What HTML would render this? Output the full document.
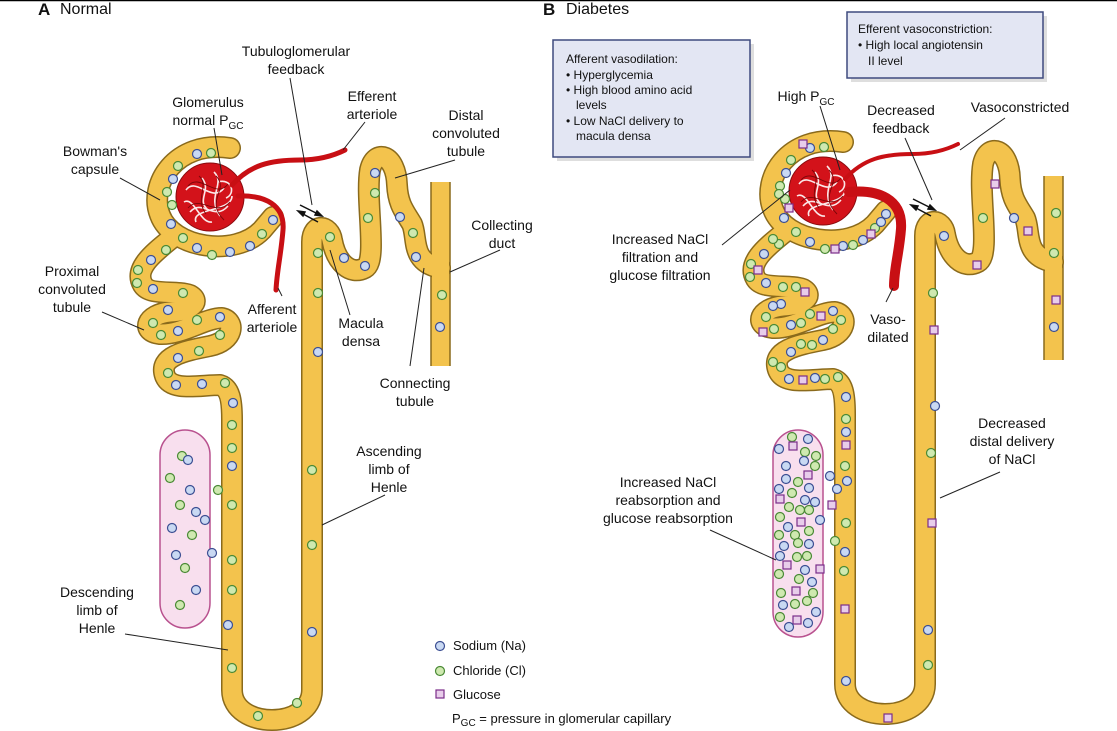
<!DOCTYPE html>
<html><head><meta charset="utf-8"><style>
html,body{margin:0;padding:0;background:#fff}
svg{display:block}
text{font-family:"Liberation Sans",Arial,sans-serif;font-size:14px;fill:#111}
.c{text-anchor:middle}
.s{font-size:12px}
</style></head><body>
<svg width="1117" height="731" viewBox="0 0 1117 731" xmlns="http://www.w3.org/2000/svg">
<defs>
<path id="tub" d="M230,148 C175,140 148,185 160,215 C172,248 235,258 262,230 L273,217
M172,238 C155,252 133,268 143,285 C150,296 175,290 190,295 C202,302 190,311 170,312 C146,314 140,332 160,334 C182,335 205,318 222,318 C236,321 234,341 210,346 C185,351 158,356 165,376 C171,392 200,385 220,385 C230,388 232,400 232,420 L232,690 C232,730 312,730 312,690 L312,242 C312,222 330,225 332,240 C336,262 350,276 365,268 C378,261 365,200 370,170 C375,148 396,154 397,185 C398,205 405,212 412,224 C418,238 410,262 440,268"/>
<g id="glom">
<circle cx="210" cy="197" r="34" fill="#d3121a" stroke="#8a0a0e" stroke-width="1"/>
<g fill="none" stroke="#fff" stroke-width="1.6" opacity="0.9">
<path d="M186,190 C196,176 212,204 224,188 M190,212 C202,198 214,222 228,206 M202,178 C212,190 196,200 208,210 M214,172 C226,184 206,196 220,216 M184,202 C194,196 200,224 212,222 M196,222 C190,208 232,212 232,196 M218,182 C232,178 236,194 226,198"/>
</g>
<g fill="none" stroke="#7a0508" stroke-width="0.9">
<path d="M188,186 C200,172 216,200 228,184 M188,208 C200,194 216,218 230,202 M199,176 C210,186 194,198 206,214 M216,176 C230,190 204,200 224,220"/>
</g>
</g>
<g id="cb"><circle r="4.5" fill="#c9d9f3" stroke="#3c4f93" stroke-width="1.2"/></g>
<g id="cg"><circle r="4.5" fill="#cfe9b0" stroke="#4a8a35" stroke-width="1.2"/></g>
<g id="sq"><rect x="-4" y="-4" width="8" height="8" fill="#e8cdea" stroke="#7b2d8a" stroke-width="1.2"/></g>
<g id="prox">
<use href="#cb" x="197" y="154"/><use href="#cg" x="211" y="153"/><use href="#cg" x="178" y="166"/><use href="#cb" x="173" y="179"/><use href="#cg" x="167" y="192"/><use href="#cg" x="172" y="205"/><use href="#cb" x="171" y="224"/><use href="#cg" x="183" y="238"/><use href="#cb" x="197" y="248"/><use href="#cg" x="212" y="255"/><use href="#cb" x="230" y="252"/><use href="#cb" x="250" y="246"/><use href="#cg" x="262" y="234"/><use href="#cb" x="273" y="220"/>
<use href="#cg" x="166" y="250"/><use href="#cb" x="151" y="260"/><use href="#cg" x="138" y="270"/><use href="#cg" x="137" y="283"/><use href="#cb" x="153" y="289"/><use href="#cg" x="183" y="293"/><use href="#cb" x="168" y="310"/><use href="#cg" x="153" y="323"/><use href="#cg" x="161" y="335"/><use href="#cb" x="178" y="331"/><use href="#cg" x="197" y="320"/><use href="#cb" x="220" y="317"/><use href="#cg" x="220" y="335"/><use href="#cg" x="199" y="351"/><use href="#cb" x="178" y="358"/><use href="#cg" x="168" y="373"/><use href="#cb" x="176" y="385"/><use href="#cb" x="202" y="384"/><use href="#cg" x="225" y="383"/><use href="#cb" x="233" y="403"/>
</g>
</defs>

<line x1="0" y1="0.5" x2="1117" y2="0.5" stroke="#000" stroke-width="1.5"/>
<text x="38" y="15" style="font-size:17px;font-weight:bold">A</text>
<text x="60" y="14" style="font-size:16px">Normal</text>
<text x="543" y="15" style="font-size:17px;font-weight:bold">B</text>
<text x="566" y="14" style="font-size:16px">Diabetes</text>

<rect x="160" y="430" width="50" height="198" rx="25" fill="#f8dfee" stroke="#b9528f" stroke-width="1.5"/>
<rect x="773" y="430" width="50" height="207" rx="25" fill="#f8dfee" stroke="#b9528f" stroke-width="1.5"/>

<!-- A nephron -->
<g>
<rect x="431" y="182" width="19" height="184" fill="#f3c34d"/>
<line x1="431" y1="182" x2="431" y2="366" stroke="#8a6a1c" stroke-width="1.5"/>
<line x1="450" y1="182" x2="450" y2="366" stroke="#8a6a1c" stroke-width="1.5"/>
<use href="#tub" fill="none" stroke="#8a6a1c" stroke-width="22" stroke-linecap="round" stroke-linejoin="round"/>
<use href="#tub" fill="none" stroke="#f3c34d" stroke-width="19" stroke-linecap="round" stroke-linejoin="round"/>
<rect x="432" y="200" width="17" height="160" fill="#f3c34d"/>
<use href="#glom"/>
<path d="M232,185 C250,165 270,160 300,160 C320,160 335,155 345,150" fill="none" stroke="#c80f14" stroke-width="5" stroke-linecap="round"/>
<path d="M238,196 C265,195 285,205 283,230 C281,255 277,270 276,290" fill="none" stroke="#c80f14" stroke-width="5" stroke-linecap="round"/>
<use href="#prox"/>
</g>

<!-- B nephron -->
<g transform="translate(613,-6)">
<rect x="431" y="182" width="19" height="184" fill="#f3c34d"/>
<line x1="431" y1="182" x2="431" y2="366" stroke="#8a6a1c" stroke-width="1.5"/>
<line x1="450" y1="182" x2="450" y2="366" stroke="#8a6a1c" stroke-width="1.5"/>
<use href="#tub" fill="none" stroke="#8a6a1c" stroke-width="22" stroke-linecap="round" stroke-linejoin="round"/>
<use href="#tub" fill="none" stroke="#f3c34d" stroke-width="19" stroke-linecap="round" stroke-linejoin="round"/>
<rect x="432" y="200" width="17" height="160" fill="#f3c34d"/>
<use href="#glom"/>
<path d="M232,185 C250,165 270,160 300,160 C320,160 335,155 345,150" fill="none" stroke="#c80f14" stroke-width="4" stroke-linecap="round"/>
<path d="M236,198 C265,195 290,205 288,235 C286,260 281,275 281,292" fill="none" stroke="#c80f14" stroke-width="10" stroke-linecap="round"/>
<use href="#prox"/>
<use href="#sq" x="190" y="150"/><use href="#sq" x="176" y="214"/><use href="#sq" x="222" y="255"/><use href="#cg" x="240" y="251"/><use href="#sq" x="258" y="240"/><use href="#cg" x="166" y="200"/><use href="#cb" x="268" y="228"/>
<use href="#cg" x="160" y="245"/><use href="#sq" x="145" y="276"/><use href="#cg" x="170" y="293"/><use href="#sq" x="192" y="298"/><use href="#cb" x="160" y="312"/><use href="#cg" x="188" y="329"/><use href="#sq" x="208" y="322"/><use href="#cg" x="228" y="326"/><use href="#cg" x="188" y="350"/><use href="#cg" x="160" y="368"/><use href="#sq" x="190" y="386"/><use href="#cg" x="212" y="385"/><use href="#sq" x="150" y="338"/><use href="#cb" x="210" y="346"/>
</g>

<!-- A dots -->
<g>
<use href="#cg" x="232" y="425"/><use href="#cg" x="232" y="448"/><use href="#cb" x="232" y="466"/><use href="#cg" x="218" y="490"/><use href="#cg" x="232" y="505"/><use href="#cb" x="212" y="553"/><use href="#cg" x="232" y="560"/><use href="#cg" x="232" y="590"/><use href="#cb" x="228" y="625"/><use href="#cg" x="232" y="668"/><use href="#cg" x="258" y="716"/><use href="#cg" x="297" y="703"/>
<use href="#cb" x="312" y="632"/><use href="#cg" x="312" y="545"/><use href="#cg" x="312" y="470"/><use href="#cb" x="318" y="352"/><use href="#cg" x="318" y="293"/><use href="#cg" x="318" y="253"/><use href="#cg" x="330" y="237"/><use href="#cb" x="344" y="258"/><use href="#cb" x="365" y="266"/><use href="#cg" x="368" y="218"/><use href="#cb" x="375" y="173"/><use href="#cg" x="375" y="193"/><use href="#cb" x="400" y="217"/><use href="#cg" x="413" y="233"/><use href="#cb" x="416" y="257"/><use href="#cg" x="442" y="295"/><use href="#cb" x="440" y="327"/>
<use href="#cg" x="182" y="456"/><use href="#cb" x="188" y="460"/><use href="#cg" x="170" y="478"/><use href="#cb" x="190" y="490"/><use href="#cg" x="180" y="505"/><use href="#cb" x="196" y="512"/><use href="#cb" x="205" y="520"/><use href="#cb" x="172" y="528"/><use href="#cg" x="192" y="535"/><use href="#cb" x="176" y="555"/><use href="#cg" x="185" y="568"/><use href="#cb" x="196" y="590"/><use href="#cg" x="180" y="605"/>
</g>

<!-- B dots -->
<g>
<use href="#cg" x="846" y="419"/><use href="#cb" x="846" y="432"/><use href="#sq" x="846" y="445"/><use href="#cg" x="845" y="466"/><use href="#cb" x="830" y="476"/><use href="#cb" x="847" y="481"/><use href="#cb" x="837" y="489"/><use href="#sq" x="832" y="505"/><use href="#cg" x="846" y="523"/><use href="#cg" x="835" y="541"/><use href="#cb" x="845" y="552"/><use href="#cg" x="844" y="571"/><use href="#sq" x="845" y="609"/><use href="#cb" x="846" y="681"/><use href="#sq" x="888" y="718"/><use href="#cg" x="928" y="665"/><use href="#cb" x="928" y="630"/><use href="#sq" x="932" y="523"/><use href="#cg" x="931" y="453"/><use href="#cb" x="935" y="406"/><use href="#sq" x="934" y="330"/><use href="#cg" x="933" y="293"/><use href="#cb" x="944" y="236"/><use href="#sq" x="977" y="265"/><use href="#cg" x="983" y="218"/><use href="#cb" x="1014" y="218"/><use href="#sq" x="1028" y="231"/><use href="#sq" x="995" y="184"/><use href="#cg" x="1056" y="213"/><use href="#cg" x="1054" y="253"/><use href="#sq" x="1056" y="300"/><use href="#cb" x="1054" y="327"/>
<use href="#cg" x="792" y="437"/><use href="#sq" x="793" y="446"/><use href="#cb" x="808" y="439"/><use href="#cb" x="779" y="449"/><use href="#cg" x="805" y="452"/><use href="#cg" x="816" y="456"/><use href="#cb" x="804" y="461"/><use href="#cb" x="786" y="466"/><use href="#sq" x="808" y="475"/><use href="#cg" x="815" y="466"/><use href="#cb" x="786" y="479"/><use href="#cg" x="798" y="482"/><use href="#cb" x="779" y="489"/><use href="#cb" x="809" y="488"/><use href="#cg" x="792" y="493"/><use href="#sq" x="780" y="499"/><use href="#cb" x="805" y="500"/><use href="#cb" x="815" y="502"/><use href="#cg" x="789" y="507"/><use href="#cg" x="800" y="510"/><use href="#cg" x="809" y="510"/><use href="#cg" x="780" y="517"/><use href="#sq" x="801" y="522"/><use href="#cb" x="820" y="520"/><use href="#cb" x="788" y="527"/><use href="#cg" x="779" y="535"/><use href="#cg" x="795" y="535"/><use href="#cg" x="809" y="531"/><use href="#cb" x="784" y="546"/><use href="#cg" x="798" y="543"/><use href="#cb" x="809" y="544"/><use href="#cb" x="780" y="556"/><use href="#cg" x="797" y="557"/><use href="#cg" x="807" y="556"/><use href="#sq" x="787" y="565"/><use href="#cb" x="805" y="570"/><use href="#sq" x="820" y="569"/><use href="#cg" x="779" y="574"/><use href="#cg" x="799" y="579"/><use href="#cb" x="812" y="582"/><use href="#sq" x="796" y="591"/><use href="#cg" x="781" y="593"/><use href="#cg" x="813" y="593"/><use href="#cb" x="783" y="605"/><use href="#cg" x="795" y="604"/><use href="#cg" x="807" y="601"/><use href="#cg" x="780" y="617"/><use href="#cb" x="816" y="612"/><use href="#sq" x="797" y="620"/><use href="#cb" x="789" y="627"/><use href="#cb" x="808" y="623"/>
</g>

<!-- leader lines -->
<g stroke="#222" stroke-width="1" fill="none">
<line x1="290" y1="78" x2="312" y2="205"/>
<line x1="214" y1="128" x2="222" y2="175"/>
<line x1="365" y1="122" x2="343" y2="150"/>
<line x1="455" y1="160" x2="395" y2="178"/>
<line x1="120" y1="178" x2="160" y2="200"/>
<line x1="500" y1="250" x2="450" y2="272"/>
<line x1="102" y1="312" x2="144" y2="330"/>
<line x1="282" y1="296" x2="278" y2="288"/>
<line x1="350" y1="315" x2="330" y2="250"/>
<line x1="410" y1="366" x2="424" y2="268"/>
<line x1="385" y1="495" x2="322" y2="525"/>
<line x1="125" y1="634" x2="228" y2="650"/>
<line x1="820" y1="106" x2="840" y2="170"/>
<line x1="905" y1="138" x2="932" y2="200"/>
<line x1="1005" y1="118" x2="960" y2="150"/>
<line x1="722" y1="245" x2="790" y2="190"/>
<line x1="886" y1="302" x2="893" y2="288"/>
<line x1="1000" y1="472" x2="940" y2="498"/>
<line x1="710" y1="530" x2="776" y2="560"/>
</g>
<g stroke="#111" stroke-width="1.5" fill="#111">
<line x1="300" y1="205" x2="318" y2="214"/><path d="M322,216 l-7,-1 l2,-4z"/>
<line x1="318" y1="222" x2="303" y2="214"/><path d="M298,211 l7,1 l-2,4z"/>
<line x1="913" y1="199" x2="931" y2="208"/><path d="M935,210 l-7,-1 l2,-4z"/>
<line x1="931" y1="216" x2="916" y2="208"/><path d="M911,205 l7,1 l-2,4z"/>
</g>

<!-- A labels -->
<text class="c" x="296" y="56">Tubuloglomerular</text><text class="c" x="296" y="74">feedback</text>
<text class="c" x="208" y="107">Glomerulus</text><text class="c" x="208" y="125">normal P<tspan style="font-size:10px" dy="4">GC</tspan></text>
<text class="c" x="372" y="101">Efferent</text><text class="c" x="372" y="119">arteriole</text>
<text class="c" x="466" y="120">Distal</text><text class="c" x="466" y="138">convoluted</text><text class="c" x="466" y="156">tubule</text>
<text class="c" x="95" y="156">Bowman's</text><text class="c" x="95" y="174">capsule</text>
<text class="c" x="502" y="230">Collecting</text><text class="c" x="502" y="248">duct</text>
<text class="c" x="72" y="276">Proximal</text><text class="c" x="72" y="294">convoluted</text><text class="c" x="72" y="312">tubule</text>
<text class="c" x="272" y="314">Afferent</text><text class="c" x="272" y="332">arteriole</text>
<text class="c" x="361" y="328">Macula</text><text class="c" x="361" y="346">densa</text>
<text class="c" x="415" y="388">Connecting</text><text class="c" x="415" y="406">tubule</text>
<text class="c" x="389" y="456">Ascending</text><text class="c" x="389" y="474">limb of</text><text class="c" x="389" y="492">Henle</text>
<text class="c" x="97" y="597">Descending</text><text class="c" x="97" y="615">limb of</text><text class="c" x="97" y="633">Henle</text>

<!-- B labels -->
<text class="c" x="806" y="101">High P<tspan style="font-size:10px" dy="4">GC</tspan></text>
<text class="c" x="901" y="115">Decreased</text><text class="c" x="901" y="133">feedback</text>
<text class="c" x="1020" y="112">Vasoconstricted</text>
<text class="c" x="660" y="244">Increased NaCl</text><text class="c" x="660" y="262">filtration and</text><text class="c" x="660" y="280">glucose filtration</text>
<text class="c" x="888" y="324">Vaso-</text><text class="c" x="888" y="342">dilated</text>
<text class="c" x="1012" y="428">Decreased</text><text class="c" x="1012" y="446">distal delivery</text><text class="c" x="1012" y="464">of NaCl</text>
<text class="c" x="668" y="487">Increased NaCl</text><text class="c" x="668" y="505">reabsorption and</text><text class="c" x="668" y="523">glucose reabsorption</text>

<!-- boxes -->
<rect x="557" y="44" width="197" height="117" fill="#c8c8c8" opacity="0.6"/>
<rect x="553" y="40" width="197" height="117" fill="#e3e6f3" stroke="#3e4a7e" stroke-width="1.5"/>
<text class="s" x="566" y="63">Afferent vasodilation:</text>
<text class="s" x="566" y="79">• Hyperglycemia</text>
<text class="s" x="566" y="94">• High blood amino acid</text>
<text class="s" x="576" y="109">levels</text>
<text class="s" x="566" y="125">• Low NaCl delivery to</text>
<text class="s" x="576" y="140">macula densa</text>
<rect x="851" y="16" width="196" height="66" fill="#c8c8c8" opacity="0.6"/>
<rect x="847" y="12" width="196" height="66" fill="#e3e6f3" stroke="#3e4a7e" stroke-width="1.5"/>
<text class="s" x="858" y="33">Efferent vasoconstriction:</text>
<text class="s" x="858" y="49">• High local angiotensin</text>
<text class="s" x="868" y="65">II level</text>

<!-- legend -->
<use href="#cb" x="440" y="646"/><text x="453" y="650" style="font-size:13px">Sodium (Na)</text>
<use href="#cg" x="440" y="671"/><text x="453" y="675" style="font-size:13px">Chloride (Cl)</text>
<use href="#sq" x="440" y="694"/><text x="453" y="699" style="font-size:13px">Glucose</text>
<text x="452" y="723" style="font-size:13px">P<tspan style="font-size:10px" dy="3">GC</tspan><tspan dy="-3"> = pressure in glomerular capillary</tspan></text>
</svg>
</body></html>
